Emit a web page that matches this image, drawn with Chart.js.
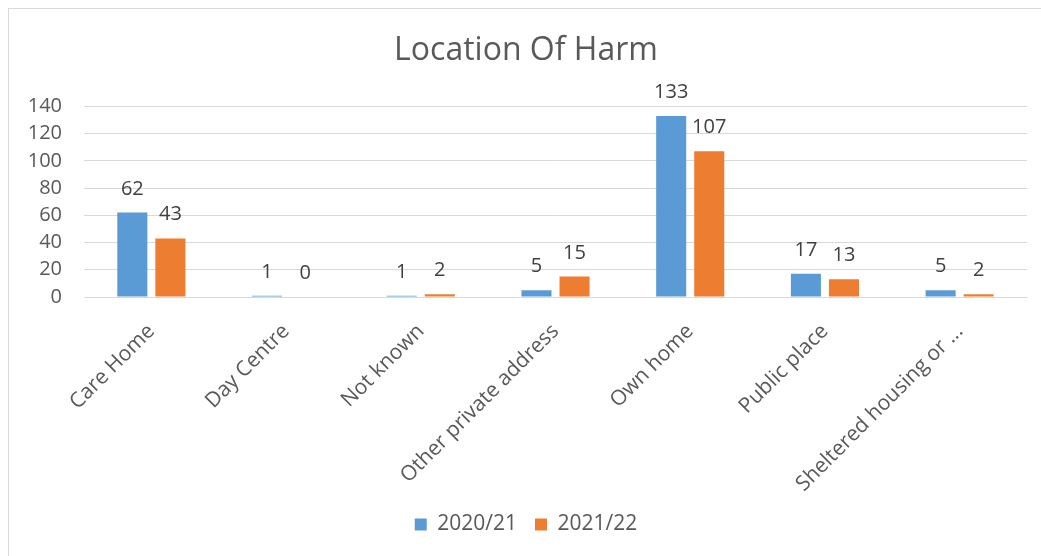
<!DOCTYPE html>
<html>
<head>
<meta charset="utf-8">
<script src="https://cdn.jsdelivr.net/npm/chart.js@4"></script>
<style>
  html, body { margin: 0; padding: 0; background: #fff; }
  #wrap { position: relative; width: 1041px; height: 556px; overflow: hidden; }
  #frame { position: absolute; left: 8px; top: 8px; width: 1040px; height: 560px; border: 1px solid #d9d9d9; box-sizing: border-box; }
  canvas { position: absolute; left: 0; top: 0; }
</style>
</head>
<body>
<div id="wrap">
  <div id="frame"></div>
  <canvas id="harmChart" width="1041" height="556"></canvas>
</div>
<script>
// values
const categories = ['Care Home', 'Day Centre', 'Not known', 'Other private address', 'Own home', 'Public place', 'Sheltered housing or ...'];
const seriesNames = ['2020/21', '2021/22'];
const values2020 = [62, 1, 1, 5, 133, 17, 5];
const values2021 = [43, 0, 2, 15, 107, 13, 2];
const yTicks = [0, 20, 40, 60, 80, 100, 120, 140];

const fontFamily = '"Open Sans", sans-serif';
const textGrey = '#595959';

// puts the number on top of every bar
const valueLabels = {
    id: 'valueLabels',
    afterDatasetsDraw(chart) {
        const ctx = chart.ctx;
        ctx.save();
        ctx.font = '20px ' + fontFamily;
        ctx.fillStyle = '#404040';
        ctx.textAlign = 'center';
        ctx.textBaseline = 'alphabetic';
        chart.data.datasets.forEach((ds, i) => {
            chart.getDatasetMeta(i).data.forEach((bar, j) => {
                ctx.fillText(ds.data[j], bar.x, bar.y - 18);
            });
        });
        ctx.restore();
    }
};

new Chart(document.getElementById('harmChart'), {
    type: 'bar',
    data: {
        labels: categories,
        datasets: [{
            label: seriesNames[0],
            data: values2020,
            backgroundColor: '#5B9BD5',
            categoryPercentage: 0.565,
            barPercentage: 0.79
        }, {
            label: seriesNames[1],
            data: values2021,
            backgroundColor: '#ED7D31',
            categoryPercentage: 0.565,
            barPercentage: 0.79
        }]
    },
    options: {
        responsive: false,
        animation: false,
        layout: { padding: { left: 25, right: 14, top: 32, bottom: 11 } },
        plugins: {
            title: {
                display: true,
                text: 'Location Of Harm',
                color: textGrey,
                font: { family: fontFamily, size: 32, weight: 'normal', lineHeight: 1.2 },
                padding: { top: 0, bottom: 36 }
            },
            legend: {
                position: 'bottom',
                labels: {
                    color: textGrey,
                    font: { family: fontFamily, size: 21 },
                    boxWidth: 12,
                    boxHeight: 12,
                    padding: 18
                }
            },
            tooltip: { enabled: false }
        },
        scales: {
            y: {
                min: 0,
                max: 140,
                afterBuildTicks(axis) { axis.ticks = yTicks.map(v => ({ value: v })); },
                afterFit(axis) { axis.width = 59; },
                ticks: {
                    color: textGrey,
                    font: { family: fontFamily, size: 20 },
                    padding: 22
                },
                grid: { color: '#d9d9d9', drawTicks: false },
                border: { display: false }
            },
            x: {
                afterFit(axis) { axis.height = 199; },
                ticks: {
                    color: textGrey,
                    font: { family: fontFamily, size: 21 },
                    minRotation: 45,
                    maxRotation: 45,
                    padding: 14
                },
                grid: { display: false },
                border: { color: '#d9d9d9', width: 1 }
            }
        }
    },
    plugins: [valueLabels]
});
</script>
</body>
</html>
